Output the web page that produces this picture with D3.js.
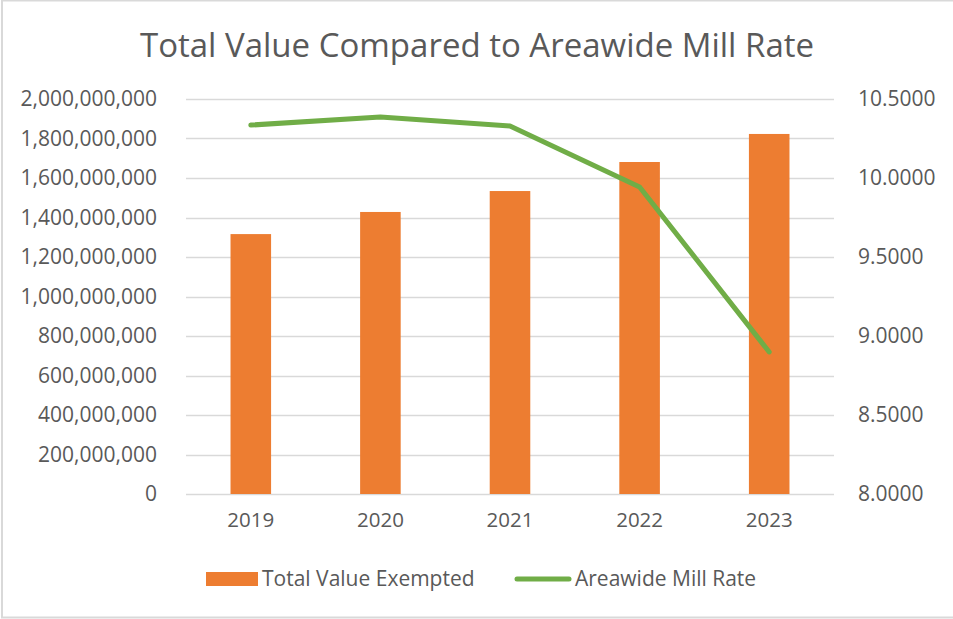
<!DOCTYPE html>
<html>
<head>
<meta charset="utf-8">
<script src="https://cdn.jsdelivr.net/npm/d3@7"></script>
<style>
  body { margin: 0; background: #fff; }
  text { font-family: "Open Sans", sans-serif; fill: #595959; }
</style>
</head>
<body>
<div id="chart"></div>
<script>
const width = 953;
const height = 619;
const margin = {top: 99, right: 119, bottom: 125, left: 186};
const innerWidth = width - margin.left - margin.right;
const innerHeight = height - margin.top - margin.bottom;

// data
const years = ["2019", "2020", "2021", "2022", "2023"];
const totalValue = [1316000000, 1428000000, 1534000000, 1681000000, 1823000000];
const millRate = [10.335, 10.386, 10.329, 9.943, 8.899];
const leftTicks = [0, 200000000, 400000000, 600000000, 800000000, 1000000000,
  1200000000, 1400000000, 1600000000, 1800000000, 2000000000];
const rightTicks = [8, 8.5, 9, 9.5, 10, 10.5];

const svg = d3.select("#chart")
  .append("svg")
  .attr("width", width)
  .attr("height", height);

// outer border (top, left, bottom only)
svg.append("path")
  .attr("d", "M953,0.5 H2 V617.5 H953")
  .attr("fill", "none")
  .attr("stroke", "#d9d9d9")
  .attr("stroke-width", 2);

svg.append("text")
  .text("Total Value Compared to Areawide Mill Rate")
  .attr("x", 477)
  .attr("y", 57)
  .attr("text-anchor", "middle")
  .style("font-size", "33px");

const x = d3.scaleBand()
  .domain(years)
  .range([0, innerWidth])
  .paddingInner(0.687)
  .paddingOuter(0.3435);

const yLeft = d3.scaleLinear()
  .domain([0, 2000000000])
  .range([innerHeight, 0]);

const yRight = d3.scaleLinear()
  .domain([8, 10.5])
  .range([innerHeight, 0]);

const g = svg.append("g")
  .attr("transform", "translate(" + margin.left + "," + margin.top + ")");

// gridlines
g.append("g")
  .selectAll("line")
  .data(leftTicks)
  .join("line")
  .attr("x1", 0)
  .attr("x2", innerWidth)
  .attr("y1", d => Math.round(yLeft(d)) + 0.5)
  .attr("y2", d => Math.round(yLeft(d)) + 0.5)
  .attr("stroke", "#d9d9d9")
  .attr("stroke-width", 1.5);

// left axis
const leftAxis = g.append("g")
  .call(d3.axisLeft(yLeft).tickValues(leftTicks).tickFormat(d3.format(",")).tickSize(0).tickPadding(29))
  .attr("font-size", 21)
  .attr("font-family", "Open Sans, sans-serif");
leftAxis.select(".domain").remove();
leftAxis.selectAll("text").attr("fill", "#595959");

// right axis
const rightAxis = g.append("g")
  .attr("transform", "translate(" + innerWidth + ",0)")
  .call(d3.axisRight(yRight).tickValues(rightTicks).tickFormat(d3.format(".4f"))
    .tickSize(0).tickPadding(24))
  .attr("font-size", 21)
  .attr("font-family", "Open Sans, sans-serif");
rightAxis.select(".domain").remove();
rightAxis.selectAll("text").attr("fill", "#595959");

// x axis labels
const xAxis = g.append("g")
  .attr("transform", "translate(0," + innerHeight + ")")
  .call(d3.axisBottom(x).tickSize(0).tickPadding(18))
  .attr("font-size", 20.5)
  .attr("font-family", "Open Sans, sans-serif");
xAxis.select(".domain").remove();
xAxis.selectAll("text").attr("fill", "#595959");

// bars
g.selectAll(".bar")
  .data(years)
  .join("rect")
  .attr("class", "bar")
  .attr("x", d => x(d))
  .attr("y", (d, i) => yLeft(totalValue[i]))
  .attr("width", x.bandwidth())
  .attr("height", (d, i) => innerHeight - yLeft(totalValue[i]))
  .attr("fill", "#ed7d31");

// mill rate line
const line = d3.line()
  .x((d, i) => x(years[i]) + x.bandwidth() / 2)
  .y(d => yRight(d));

g.append("path")
  .datum(millRate)
  .attr("d", line)
  .attr("fill", "none")
  .attr("stroke", "#70ad47")
  .attr("stroke-width", 5)
  .attr("stroke-linecap", "round")
  .attr("stroke-linejoin", "round");

// legend
const legend = svg.append("g").attr("transform", "translate(0,579)");
legend.append("rect")
  .attr("x", 206).attr("y", -7)
  .attr("width", 52).attr("height", 14)
  .attr("fill", "#ed7d31");
legend.append("text")
  .text("Total Value Exempted")
  .attr("x", 262).attr("y", 7)
  .style("font-size", "21px");
legend.append("line")
  .attr("x1", 517).attr("x2", 569)
  .attr("y1", 0).attr("y2", 0)
  .attr("stroke", "#70ad47")
  .attr("stroke-width", 5)
  .attr("stroke-linecap", "round");
legend.append("text")
  .text("Areawide Mill Rate")
  .attr("x", 575).attr("y", 7)
  .style("font-size", "21px");
</script>
</body>
</html>
